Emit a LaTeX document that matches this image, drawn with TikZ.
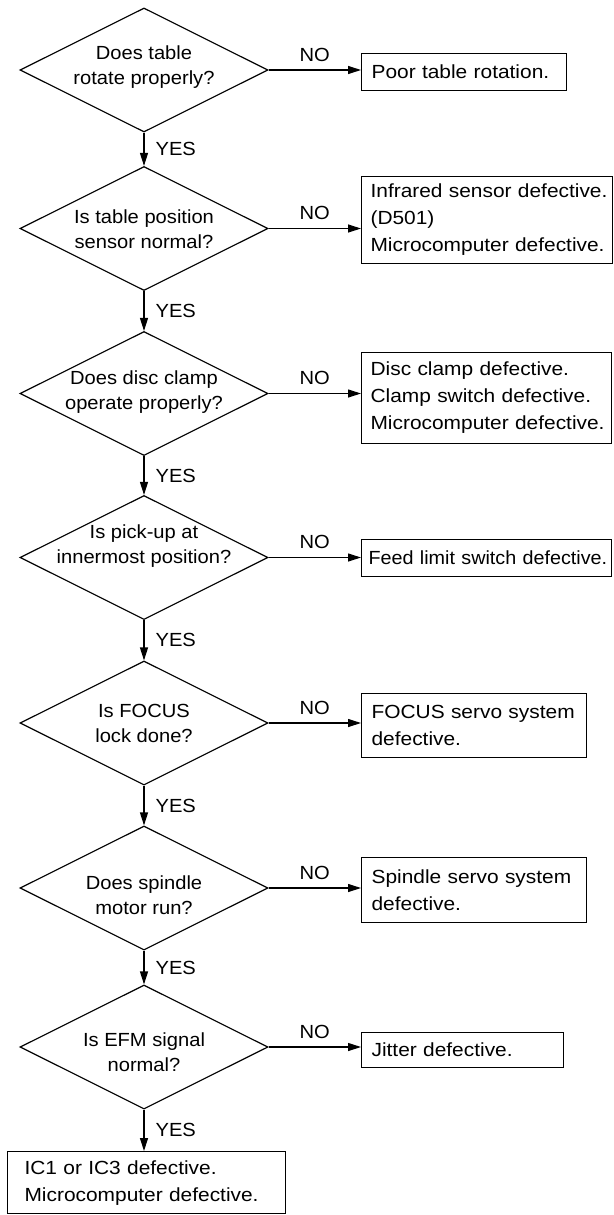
\documentclass[tikz,border=0pt]{standalone}
\usepackage{fontspec}
\setmainfont{Liberation Sans}[FakeStretch=1.1]
\newfontfamily\decfont{Liberation Sans}[FakeStretch=1.06]
\newfontfamily\feedfont{Liberation Sans}[FakeStretch=1.04]
\usetikzlibrary{arrows.meta,shapes.geometric}
\begin{document}
\begin{tikzpicture}[x=1pt,y=-1pt,
  line width=1.15pt,
  dec/.style={draw, diamond, minimum width=248pt, minimum height=124pt, inner sep=0pt},
  dectext/.style={align=center, inner sep=0pt, font=\fontsize{19}{25}\decfont},
  res/.style={draw, rectangle, anchor=north west, align=left, inner xsep=10pt, inner ysep=0pt, font=\fontsize{19}{27}\selectfont},
  flow/.style={-{Triangle[length=13pt,width=8pt]}},
  yeslab/.style={midway, anchor=west, xshift=11pt, inner sep=0pt, font=\fontsize{19}{23}\decfont},
  nolab/.style={midway, anchor=south, yshift=8pt, inner sep=0pt, font=\fontsize{19}{23}\decfont}]
\useasboundingbox (0,0) rectangle (613,1215);

% decisions
\node[dec] (d1) at (144,70) {};
\node[dec] (d2) at (144,228.5) {};
\node[dec] (d3) at (144,393.5) {};
\node[dec] (d4) at (144,557.5) {};
\node[dec] (d5) at (144,723) {};
\node[dec] (d6) at (144,888) {};
\node[dec] (d7) at (144,1047) {};

\node[dectext] (t1) at (144,67.5) {Does table\\rotate properly?};
\node[dectext] (t2) at (144,229) {Is table position\\sensor normal?};
\node[dectext] (t3) at (144,392) {Does disc clamp\\operate properly?};
\node[dectext] (t4) at (144,546) {Is pick-up at\\innermost position?};
\node[dectext] (t5) at (144,723.5) {Is FOCUS\\lock done?};
\node[dectext] (t6) at (144,895) {Does spindle\\motor run?};
\node[dectext] (t7) at (144,1052) {Is EFM signal\\normal?};

% results
\node[res, text width=185pt, minimum height=37pt] (b1) at (361,53) {\mbox{Poor table rotation.}};
\node[res, inner xsep=9pt, text width=233pt, minimum height=87pt] (b2) at (361,176) {\mbox{Infrared sensor defective.}\\(D501)\\\mbox{Microcomputer defective.}};
\node[res, inner xsep=9pt, text width=232pt, minimum height=91pt] (b3) at (361,352) {\mbox{Disc clamp defective.}\\\mbox{Clamp switch defective.}\\\mbox{Microcomputer defective.}};
\node[res, inner xsep=7pt, text width=236pt, minimum height=37pt, font=\fontsize{19}{27}\feedfont] (b4) at (361,539) {\mbox{Feed limit switch defective.}};
\node[res, text width=205pt, minimum height=64pt] (b5) at (361,693) {\mbox{FOCUS servo system}\\defective.};
\node[res, text width=205pt, minimum height=65pt] (b6) at (361,857) {\mbox{Spindle servo system}\\defective.};
\node[res, text width=182pt, minimum height=35pt] (b7) at (361,1032) {\mbox{Jitter defective.}};
\node[res, inner xsep=17pt, text width=244pt, minimum height=62pt] (b8) at (7,1151) {\mbox{IC1 or IC3 defective.}\\\mbox{Microcomputer defective.}};

% NO branches
\draw[flow] (d1.east) -- (d1.east -| b1.west) node[nolab] {NO};
\draw[flow] (d2.east) -- (d2.east -| b2.west) node[nolab] {NO};
\draw[flow] (d3.east) -- (d3.east -| b3.west) node[nolab] {NO};
\draw[flow] (d4.east) -- (d4.east -| b4.west) node[nolab] {NO};
\draw[flow] (d5.east) -- (d5.east -| b5.west) node[nolab] {NO};
\draw[flow] (d6.east) -- (d6.east -| b6.west) node[nolab] {NO};
\draw[flow] (d7.east) -- (d7.east -| b7.west) node[nolab] {NO};

% YES branches
\draw[flow] (d1.south) -- (d2.north) node[yeslab] {YES};
\draw[flow] (d2.south) -- (d3.north) node[yeslab] {YES};
\draw[flow] (d3.south) -- (d4.north) node[yeslab] {YES};
\draw[flow] (d4.south) -- (d5.north) node[yeslab] {YES};
\draw[flow] (d5.south) -- (d6.north) node[yeslab] {YES};
\draw[flow] (d6.south) -- (d7.north) node[yeslab] {YES};
\draw[flow] (d7.south) -- (d7.south |- b8.north) node[yeslab] {YES};
\end{tikzpicture}
\end{document}
